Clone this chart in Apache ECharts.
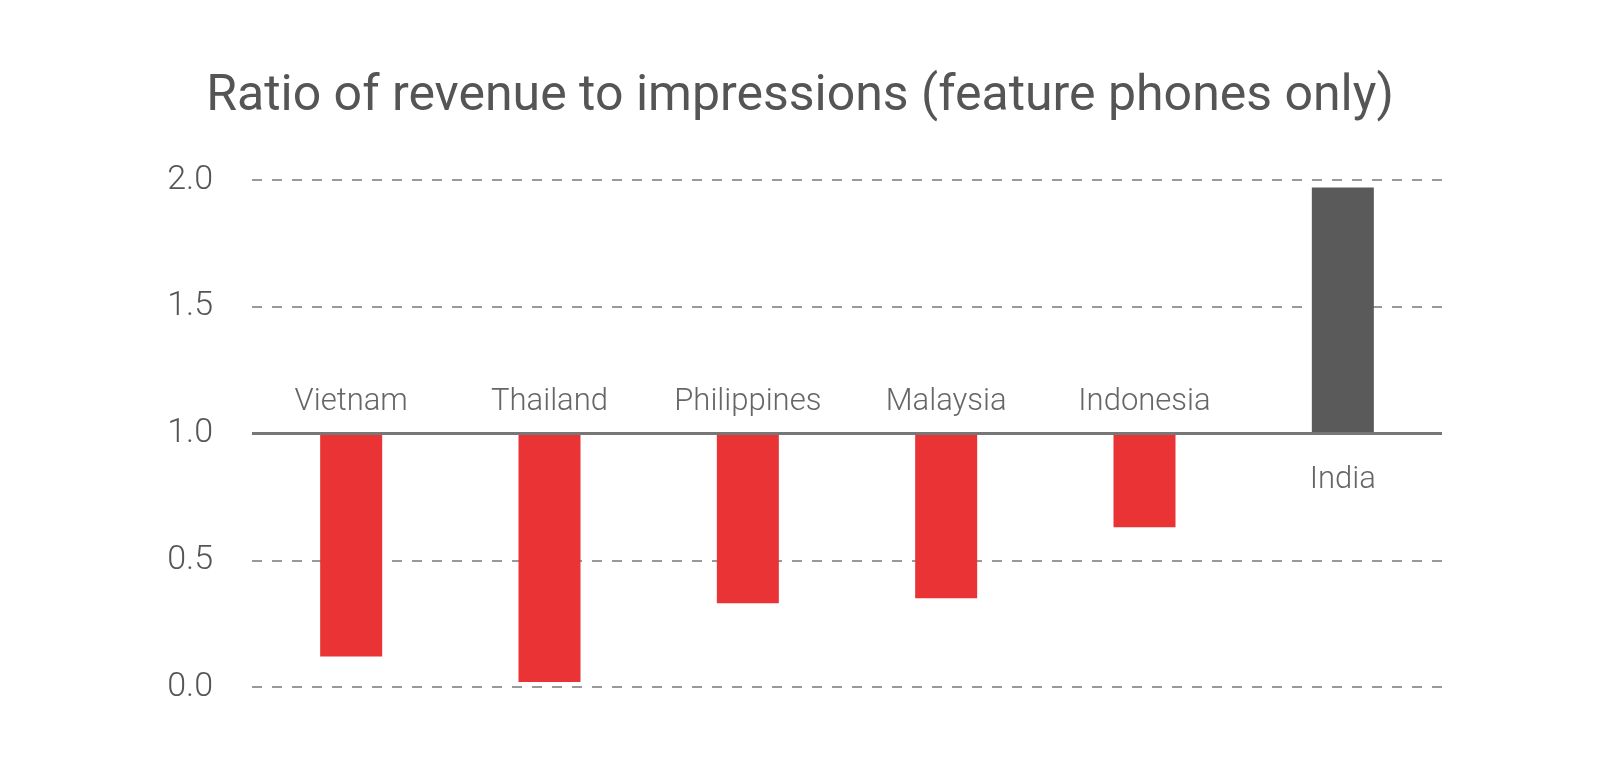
<!DOCTYPE html>
<html>
<head>
<meta charset="utf-8">
<script src="https://cdn.jsdelivr.net/npm/echarts@6/dist/echarts.min.js"></script>
<style>
    html, body { margin: 0; padding: 0; background: #fff; }
    #chart { width: 1600px; height: 771px; }
</style>
</head>
<body>
<div id="chart"></div>
<script>
const countries = ['Vietnam', 'Thailand', 'Philippines', 'Malaysia', 'Indonesia', 'India'];
const ratios = [0.12, 0.02, 0.33, 0.35, 0.63, 1.97];
const baseline = 1.0;
const yTicks = [0, 0.5, 1.0, 1.5, 2.0];

const red = '#e93335';
const grey = '#5a5a5a';
const fontFamily = 'Roboto, "Noto Sans", sans-serif';

// bars hang from the 1.0 line: an invisible stack part up to the lower end, then the visible part
let hidden = [];
let visible = [];
ratios.forEach(function (v, i) {
    hidden.push(Math.min(v, baseline));
    let below = v < baseline;
    visible.push({
        value: Math.abs(v - baseline),
        itemStyle: { color: below ? red : grey },
        label: {
            position: below ? 'top' : 'bottom',
            distance: below ? 16 : 31
        }
    });
});

let chart = echarts.init(document.getElementById('chart'));
chart.setOption({
    animation: false,
    title: {
        text: 'Ratio of revenue to impressions (feature phones only)',
        left: 'center',
        top: 67,
        textStyle: {
            fontFamily: fontFamily,
            fontSize: 50,
            fontWeight: 'normal',
            color: '#555'
        }
    },
    grid: { left: 252, right: 158, top: 180, bottom: 84 },
    xAxis: {
        type: 'category',
        data: countries,
        axisLine: { show: false },
        axisTick: { show: false },
        axisLabel: { show: false }
    },
    yAxis: {
        type: 'value',
        min: yTicks[0],
        max: yTicks[yTicks.length - 1],
        interval: 0.5,
        axisLine: { show: false },
        axisTick: { show: false },
        axisLabel: {
            margin: 39,
            fontFamily: fontFamily,
            fontWeight: 300,
            fontSize: 34,
            color: '#555',
            formatter: function (v) { return v.toFixed(1); }
        },
        splitLine: {
            lineStyle: { color: '#999', width: 2, type: [10, 10] }
        }
    },
    series: [
        {
            type: 'bar',
            stack: 'r',
            barWidth: 62,
            data: hidden,
            itemStyle: { color: 'transparent' },
            silent: true
        },
        {
            type: 'bar',
            stack: 'r',
            barWidth: 62,
            data: visible,
            label: {
                show: true,
                formatter: function (p) { return countries[p.dataIndex]; },
                fontFamily: fontFamily,
                fontWeight: 300,
                fontSize: 31,
                color: '#666'
            },
            markLine: {
                silent: true,
                symbol: 'none',
                label: { show: false },
                lineStyle: { color: '#777', width: 3, type: 'solid' },
                data: [{ yAxis: baseline }]
            }
        }
    ]
});
</script>
</body>
</html>
